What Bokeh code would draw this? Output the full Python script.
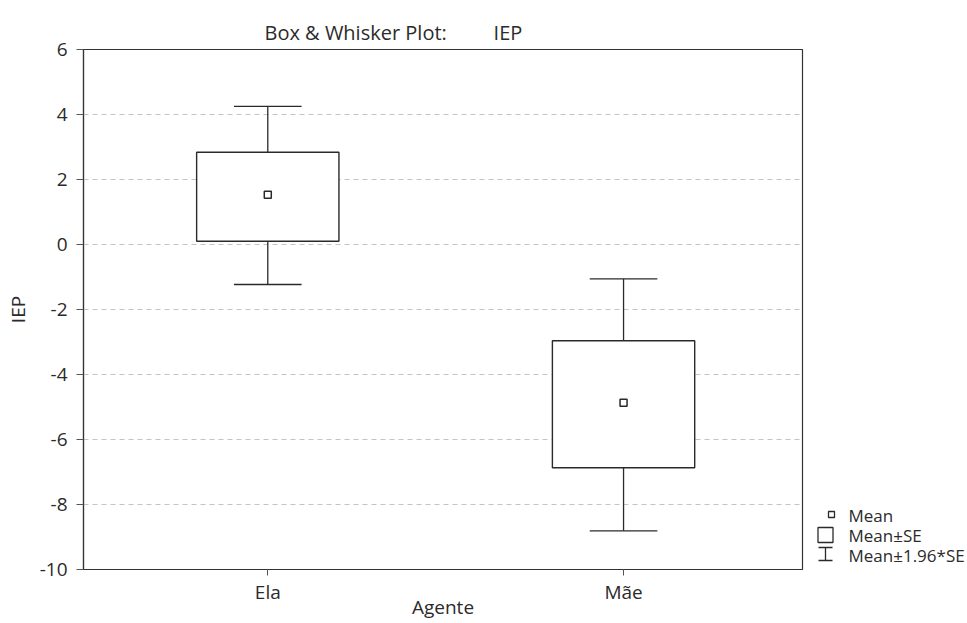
from bokeh.plotting import figure
from bokeh.layouts import row
from bokeh.models import ColumnDataSource, FixedTicker, Range1d
from bokeh.core.properties import value
from bokeh.embed import file_html
from bokeh.resources import INLINE

# ---- data ----
agents = ["Ela", "Mãe"]
agent_pos = [1, 2]
means = [1.53, -4.87]
se_low = [0.10, -6.87]
se_high = [2.84, -2.96]
ci_low = [-1.23, -8.81]
ci_high = [4.25, -1.06]
y_ticks = [-10, -8, -6, -4, -2, 0, 2, 4, 6]
y_tick_labels = ["-10", "-8", "-6", "-4", "-2", "0", "2", "4", "6"]
legend_labels = ["Mean", "Mean±SE", "Mean±1.96*SE"]

FONT = "Open Sans"
TXT = "#2b2b2b"
LINE = "#2a2a2a"
AX = "#555555"
BOX_W = 0.40
CAP_W = 0.19

LEFT, TOP, FW, FH, BOTTOM, RIGHT = 83, 49, 719, 520, 50, 5

src = ColumnDataSource(dict(
    x=agent_pos, mean=means, lo=se_low, hi=se_high, clo=ci_low, chi=ci_high,
    capl=[v - CAP_W / 2 for v in agent_pos], capr=[v + CAP_W / 2 for v in agent_pos],
))

p = figure(frame_width=FW, frame_height=FH, output_backend="svg", toolbar_location=None,
           x_range=Range1d(0.482, 2.503), y_range=Range1d(-10, 6),
           min_border_left=LEFT, min_border_right=RIGHT, min_border_top=TOP,
           min_border_bottom=BOTTOM)

p.title.text = "Box & Whisker Plot:" + "\u00a0" * 9 + "IEP"
p.title.text_font = FONT
p.title.text_font_size = "20px"
p.title.text_font_style = "normal"
p.title.text_color = TXT
p.title.align = "left"
p.title.offset = 181
p.title.standoff = 8

p.outline_line_color = "#333333"
p.outline_line_width = 1.2

# grid
p.xgrid.grid_line_color = None
p.ygrid.ticker = FixedTicker(ticks=[-8, -6, -4, -2, 0, 2, 4])
p.ygrid.grid_line_color = "#c4c4c4"
p.ygrid.grid_line_dash = "5 4"
p.ygrid.grid_line_width = 1

# axes
p.yaxis.ticker = FixedTicker(ticks=y_ticks)
p.yaxis.major_label_overrides = {t: s for t, s in zip(y_ticks, y_tick_labels)}
p.xaxis.ticker = FixedTicker(ticks=agent_pos)
p.xaxis.major_label_overrides = {pos: name for pos, name in zip(agent_pos, agents)}
p.xaxis.axis_label = "Agente"
p.yaxis.axis_label = "IEP"
for ax in (p.xaxis[0], p.yaxis[0]):
    ax.axis_line_color = "#333333"
    ax.axis_line_width = 1.2
    ax.major_tick_line_color = AX
    ax.minor_tick_line_color = None
    ax.major_tick_in = 0
    ax.major_label_text_font = FONT
    ax.major_label_text_color = TXT
    ax.axis_label_text_font = FONT
    ax.axis_label_text_font_style = "normal"
    ax.axis_label_text_color = TXT
    ax.axis_label_text_font_size = "19px"
p.yaxis.major_tick_out = 7
p.xaxis.major_tick_out = 6
p.yaxis.major_label_text_font_size = "19px"
p.xaxis.major_label_text_font_size = "19px"
p.yaxis.major_label_standoff = 9
p.xaxis.major_label_standoff = 3
p.xaxis.axis_label_standoff = -14
p.yaxis.axis_label_standoff = 6

# whiskers (Mean ± 1.96*SE)
p.segment(x0="x", y0="hi", x1="x", y1="chi", source=src, line_color=LINE, line_width=1.3)
p.segment(x0="x", y0="lo", x1="x", y1="clo", source=src, line_color=LINE, line_width=1.3)
p.segment(x0="capl", y0="chi", x1="capr", y1="chi", source=src, line_color=LINE, line_width=1.3)
p.segment(x0="capl", y0="clo", x1="capr", y1="clo", source=src, line_color=LINE, line_width=1.3)

# boxes (Mean ± SE)
p.vbar(x="x", width=BOX_W, bottom="lo", top="hi", source=src,
       fill_color="white", line_color=LINE, line_width=1.4)

# mean
p.scatter(x="x", y="mean", source=src, marker="square", size=7,
          fill_color="white", line_color=LINE, line_width=1.5)

# ---- legend panel (pixel coordinates measured from the main frame's top) ----
LW = 158
lg = figure(frame_width=LW, frame_height=FH, output_backend="svg", toolbar_location=None,
            x_range=Range1d(0, LW), y_range=Range1d(FH, 0), title=None,
            x_axis_location=None, y_axis_location=None,
            min_border_left=0, min_border_right=0, min_border_top=TOP,
            min_border_bottom=BOTTOM, outline_line_color=None)
lg.grid.visible = False

sym_x = 18
row_y = [y - TOP for y in (514, 534.5, 553.5)]
txt_x = 41
txt_y = [y - TOP for y in (515, 535, 555)]
lg.scatter(x=[sym_x + 6], y=[row_y[0]], marker="square", size=6,
           fill_color="white", line_color=LINE, line_width=1.3)
lg.scatter(x=[sym_x], y=[row_y[1]], marker="square", size=15,
           fill_color="white", line_color=LINE, line_width=1.3)
lg.segment(x0=[sym_x, sym_x - 7, sym_x - 7], y0=[row_y[2] - 6.5, row_y[2] - 6.5, row_y[2] + 6.5],
           x1=[sym_x, sym_x + 7, sym_x + 7], y1=[row_y[2] + 6.5, row_y[2] - 6.5, row_y[2] + 6.5],
           line_color=LINE, line_width=1.3)
lg.text(x=[txt_x] * 3, y=txt_y, text=legend_labels, text_font=value(FONT),
        text_font_size="17px", text_color=TXT, text_baseline="middle", text_align="left")

layout = row(p, lg, spacing=0)
open("out.html", "w").write(file_html(layout, INLINE))
